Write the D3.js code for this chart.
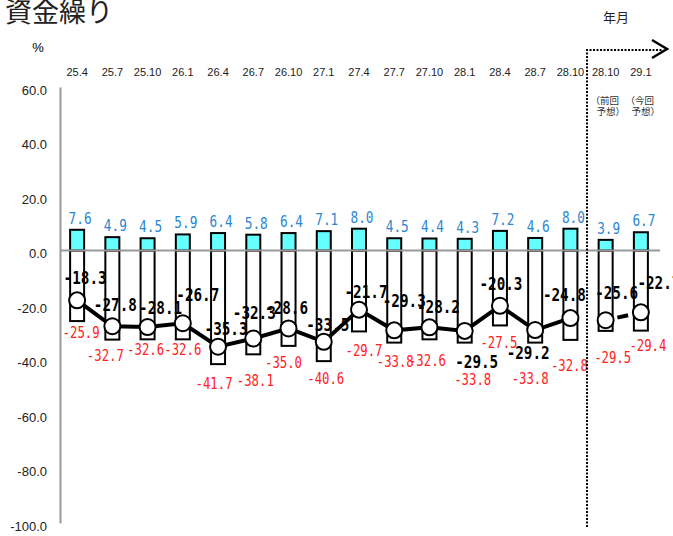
<!DOCTYPE html>
<meta charset="utf-8">
<style>
    body { margin: 0; background: #fff; }
    .num { font-family: "DejaVu Sans Mono", monospace; }
    .axis text { font-family: "Liberation Sans", Arial, sans-serif; fill: #222; }
</style>
<body>
<script src="https://d3js.org/d3.v7.min.js"></script>
<script>
    // categories (年.月), last two are forecasts
    var categories = ["25.4", "25.7", "25.10", "26.1", "26.4", "26.7", "26.10", "27.1",
        "27.4", "27.7", "27.10", "28.1", "28.4", "28.7", "28.10", "28.10", "29.1"];
    var positive = [7.6, 4.9, 4.5, 5.9, 6.4, 5.8, 6.4, 7.1, 8.0, 4.5, 4.4, 4.3, 7.2, 4.6, 8.0, 3.9, 6.7];
    var negative = [-25.9, -32.7, -32.6, -32.6, -41.7, -38.1, -35.0, -40.6, -29.7, -33.8, -32.6, -33.8, -27.5, -33.8, -32.8, -29.5, -29.4];
    var net = [-18.3, -27.8, -28.1, -26.7, -35.3, -32.3, -28.6, -33.5, -21.7, -29.3, -28.2, -29.5, -20.3, -29.2, -24.8, -25.6, -22.7];
    var yTicks = [60, 40, 20, 0, -20, -40, -60, -80, -100];
    var forecastFrom = 15;

    // hand placed label nudges, as in the original sheet
    var netNudge = [[8, -23], [3, -22], [13, -20], [15, -29], [8, -18], [1, -26], [-2, -21], [4, -17],
        [7, -18], [10, -30], [9, -21], [12, 31], [1, -22], [-7, 22], [-6, -24], [11, -28], [18, -30]];
    var negNudge = [[4, 11], [-7, 16], [-2, 10], [0, 10], [-4, 19], [2, 26], [-5, 16], [2, 17],
        [5, 19], [1, 19], [-2, 21], [8, 37], [-1, 17], [-5, 36], [-1, 25], [7, 26], [7, 15]];

    var width = 673,
        height = 536;

    var svg = d3.select("body").append("svg")
        .attr("width", width)
        .attr("height", height);

    var x = d3.scaleBand().domain(d3.range(categories.length)).range([59.5, 658.5]),
        y = d3.scaleLinear().domain([60, -100]).range([87, 523]);

    var barW = 14;
    var cx = function(i) { return x(i) + x.bandwidth() / 2; };

    // title
    svg.append("text")
        .attr("x", 5).attr("y", 22)
        .style("font", "27px 'Noto Sans CJK JP'")
        .style("fill", "#222")
        .text("資金繰り");

    svg.append("text")
        .attr("x", 38).attr("y", 52)
        .attr("text-anchor", "middle")
        .style("font", "13px 'Liberation Sans'")
        .text("%");

    svg.append("text")
        .attr("x", 616).attr("y", 22)
        .attr("text-anchor", "middle")
        .style("font", "13px 'Noto Sans CJK JP'")
        .style("fill", "#222")
        .text("年月");

    // y axis
    var yAxis = svg.append("g")
        .attr("class", "axis")
        .attr("transform", "translate(60,0)")
        .call(d3.axisLeft(y).tickValues(yTicks).tickSize(0).tickPadding(13)
            .tickFormat(function(d) { return d.toFixed(1); }));
    yAxis.select(".domain").attr("stroke", "#999").attr("stroke-width", 2);
    yAxis.selectAll("text").style("font-size", "13px").attr("dy", "0.55em");

    // x axis labels on top
    var xAxis = svg.append("g")
        .attr("class", "axis")
        .attr("transform", "translate(0,79)")
        .call(d3.axisTop(x).tickSize(0).tickPadding(3)
            .tickFormat(function(i) { return categories[i]; }));
    xAxis.select(".domain").remove();
    xAxis.selectAll("text").style("font-size", "11px");

    // forecast notes
    var notes = [["（前回", "予想）"], ["（今回", "予想）"]];
    notes.forEach(function(n, k) {
        var c = cx(forecastFrom + k);
        svg.append("text").attr("x", c - 1).attr("y", 104).attr("text-anchor", "middle")
            .style("font", "9.5px 'Noto Sans CJK JP'").style("fill", "#333").text(n[0]);
        svg.append("text").attr("x", c + 5).attr("y", 115).attr("text-anchor", "middle")
            .style("font", "9.5px 'Noto Sans CJK JP'").style("fill", "#333").text(n[1]);
    });

    var idx = d3.range(categories.length);

    // bars
    svg.selectAll(".neg").data(idx).enter().append("rect")
        .attr("class", "neg")
        .attr("x", function(i) { return cx(i) - barW / 2; })
        .attr("y", y(0))
        .attr("width", barW)
        .attr("height", function(i) { return y(negative[i]) - y(0); })
        .attr("fill", "#fff").attr("stroke", "#000").attr("stroke-width", 2);

    svg.selectAll(".pos").data(idx).enter().append("rect")
        .attr("class", "pos")
        .attr("x", function(i) { return cx(i) - barW / 2; })
        .attr("y", function(i) { return y(positive[i]); })
        .attr("width", barW)
        .attr("height", function(i) { return y(0) - y(positive[i]); })
        .attr("fill", "#66ffff").attr("stroke", "#000").attr("stroke-width", 2);

    // zero line
    svg.append("line")
        .attr("x1", 60).attr("x2", 660)
        .attr("y1", y(0)).attr("y2", y(0))
        .attr("stroke", "#999").attr("stroke-width", 2);

    // net line
    var line = d3.line()
        .x(function(i) { return cx(i); })
        .y(function(i) { return y(net[i]); });

    svg.append("path")
        .datum(idx.slice(0, forecastFrom))
        .attr("d", line)
        .attr("fill", "none").attr("stroke", "#000").attr("stroke-width", 4);

    svg.append("path")
        .datum(idx.slice(forecastFrom))
        .attr("d", line)
        .attr("fill", "none").attr("stroke", "#000").attr("stroke-width", 4)
        .attr("stroke-dasharray", "0 12 11 40");

    svg.selectAll(".dot").data(idx).enter().append("circle")
        .attr("class", "dot")
        .attr("cx", function(i) { return cx(i); })
        .attr("cy", function(i) { return y(net[i]); })
        .attr("r", 8)
        .attr("fill", "#fff").attr("stroke", "#000").attr("stroke-width", 2);

    // value labels
    svg.selectAll(".lab-pos").data(idx).enter().append("text")
        .attr("class", "num lab-pos")
        .attr("x", function(i) { return cx(i) + 3; })
        .attr("y", function(i) { return y(positive[i]) - 12; })
        .attr("dy", "0.36em")
        .attr("text-anchor", "middle")
        .attr("textLength", 23).attr("lengthAdjust", "spacingAndGlyphs")
        .style("font-size", "16.5px").style("fill", "#2b86cf")
        .text(function(i) { return positive[i].toFixed(1); });

    svg.selectAll(".lab-neg").data(idx).enter().append("text")
        .attr("class", "num lab-neg")
        .attr("x", function(i) { return cx(i) + negNudge[i][0]; })
        .attr("y", function(i) { return y(negative[i]) + negNudge[i][1]; })
        .attr("dy", "0.36em")
        .attr("text-anchor", "middle")
        .attr("textLength", 37).attr("lengthAdjust", "spacingAndGlyphs")
        .style("font-size", "16px").style("fill", "#ff2020")
        .text(function(i) { return negative[i].toFixed(1); });

    svg.selectAll(".lab-net").data(idx).enter().append("text")
        .attr("class", "num lab-net")
        .attr("x", function(i) { return cx(i) + netNudge[i][0]; })
        .attr("y", function(i) { return y(net[i]) + netNudge[i][1]; })
        .attr("dy", "0.36em")
        .attr("text-anchor", "middle")
        .attr("textLength", 43).attr("lengthAdjust", "spacingAndGlyphs")
        .style("font-size", "18px").style("font-weight", "bold").style("fill", "#000")
        .text(function(i) { return net[i].toFixed(1); });

    // forecast divider with arrow
    var xs = x(forecastFrom) - 1;
    svg.append("path")
        .attr("d", "M" + xs + "," + (y(-100) + 4) + "V50H662")
        .attr("fill", "none").attr("stroke", "#000").attr("stroke-width", 2)
        .attr("stroke-dasharray", "2 1.5");
    svg.append("path")
        .attr("d", "M652,40L667,49L652,58")
        .attr("fill", "none").attr("stroke", "#000").attr("stroke-width", 2.5);
</script>
</body>
